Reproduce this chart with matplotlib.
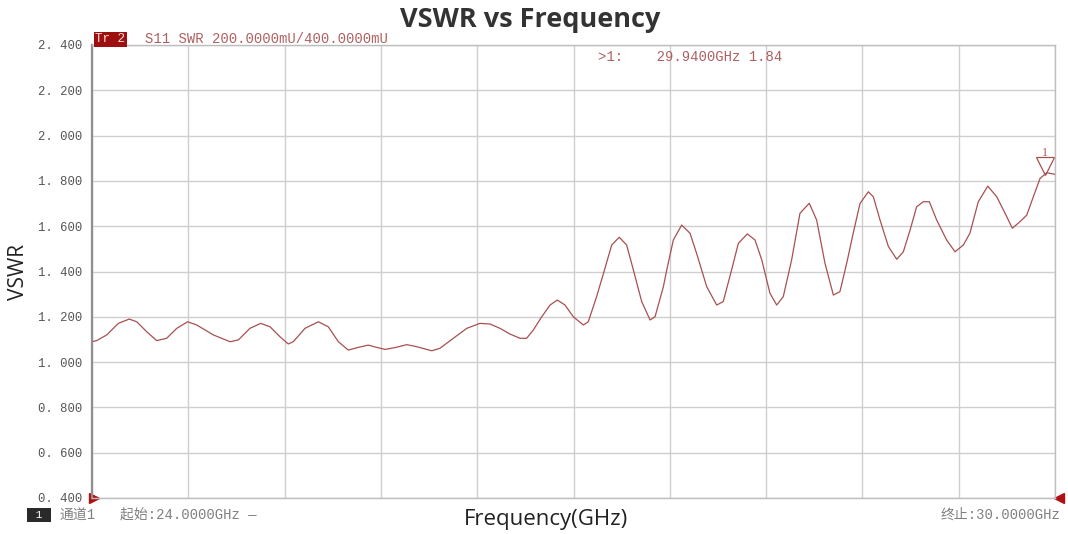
import matplotlib
matplotlib.use("Agg")
import matplotlib.pyplot as plt
import matplotlib.transforms as mtransforms

# VSWR trace (GHz, VSWR)
freq = [24.000, 24.029, 24.092, 24.164, 24.232, 24.279, 24.341, 24.403, 24.465, 24.528,
        24.596, 24.652, 24.756, 24.860, 24.912, 24.984, 25.051, 25.109, 25.171, 25.223,
        25.254, 25.327, 25.410, 25.472, 25.535, 25.597, 25.659, 25.721, 25.774, 25.826,
        25.888, 25.961, 26.023, 26.117, 26.168, 26.251, 26.335, 26.417, 26.480, 26.542,
        26.604, 26.667, 26.708, 26.750, 26.802, 26.854, 26.899, 26.947, 26.999, 27.061,
        27.092, 27.144, 27.196, 27.238, 27.285, 27.331, 27.373, 27.425, 27.477, 27.508,
        27.560, 27.581, 27.622, 27.674, 27.726, 27.767, 27.830, 27.892, 27.933, 27.985,
        28.027, 28.083, 28.131, 28.173, 28.224, 28.266, 28.307, 28.359, 28.411, 28.469,
        28.515, 28.567, 28.619, 28.660, 28.702, 28.743, 28.785, 28.837, 28.868, 28.910,
        28.962, 29.014, 29.055, 29.097, 29.138, 29.180, 29.217, 29.263, 29.325, 29.377,
        29.429, 29.470, 29.522, 29.581, 29.637, 29.689, 29.734, 29.782, 29.824, 29.865,
        29.907, 29.948, 30.000]
vswr = [1.090, 1.095, 1.120, 1.171, 1.190, 1.178, 1.134, 1.095, 1.105, 1.149,
        1.178, 1.164, 1.120, 1.090, 1.098, 1.149, 1.171, 1.156, 1.112, 1.080,
        1.090, 1.149, 1.178, 1.156, 1.090, 1.053, 1.065, 1.075, 1.065, 1.056,
        1.064, 1.077, 1.068, 1.050, 1.061, 1.105, 1.149, 1.171, 1.168, 1.149,
        1.124, 1.105, 1.105, 1.142, 1.200, 1.252, 1.274, 1.252, 1.200, 1.164,
        1.178, 1.289, 1.414, 1.517, 1.551, 1.517, 1.407, 1.267, 1.186, 1.200,
        1.333, 1.407, 1.539, 1.605, 1.569, 1.480, 1.333, 1.252, 1.267, 1.407,
        1.524, 1.566, 1.539, 1.451, 1.304, 1.252, 1.289, 1.451, 1.657, 1.701,
        1.627, 1.436, 1.296, 1.311, 1.436, 1.570, 1.700, 1.752, 1.730, 1.627,
        1.510, 1.454, 1.487, 1.583, 1.686, 1.708, 1.708, 1.627, 1.539, 1.487,
        1.517, 1.569, 1.708, 1.777, 1.730, 1.657, 1.591, 1.620, 1.649, 1.730,
        1.811, 1.836, 1.829]

y_ticks = [0.4, 0.6, 0.8, 1.0, 1.2, 1.4, 1.6, 1.8, 2.0, 2.2, 2.4]
y_labels = ["0. 400", "0. 600", "0. 800", "1. 000", "1. 200", "1. 400",
            "1. 600", "1. 800", "2. 000", "2. 200", "2. 400"]
x_grid = [24.0, 24.6, 25.2, 25.8, 26.4, 27.0, 27.6, 28.2, 28.8, 29.4, 30.0]

marker_f, marker_v = 29.94, 1.84

trace_col = "#a85050"
text_red = "#b06060"
mono = "Liberation Mono"
mono_cjk = ["Liberation Mono", "Noto Sans CJK SC"]

fig = plt.figure(figsize=(10.68, 5.34), dpi=100)
ax = fig.add_axes([92/1068, 1-498/534, (1055-92)/1068, (498-45)/534])

ax.plot(freq, vswr, color=trace_col, lw=0.9)

ax.set_xlim(24, 30)
ax.set_ylim(0.4, 2.4)
ax.set_xticks(x_grid)
ax.set_xticklabels([])
ax.set_yticks(y_ticks)
ax.set_yticklabels(y_labels, fontsize=8.8, family=mono, color="#555555")
ax.tick_params(length=0, pad=7)
ax.grid(True, color="#cfcfcf", lw=1.0)
for s in ax.spines.values():
    s.set_color("#bdbdbd")
    s.set_linewidth(1.0)
ax.spines["left"].set_color("#8f8f8f")
ax.spines["left"].set_linewidth(1.6)

# marker 1
tri = mtransforms.offset_copy(ax.transData, fig=fig, x=0, y=6, units="dots")
ax.plot([marker_f], [marker_v], marker="v", ms=13, mfc="none", mec=trace_col,
        mew=0.9, transform=tri, clip_on=False)
ax.annotate("1", (marker_f, marker_v), xytext=(0, 13), textcoords="offset pixels",
            ha="center", va="bottom", fontsize=8.5, family="Liberation Serif",
            color=trace_col, annotation_clip=False)

# stimulus arrows
ax.plot([24.0], [0.4], marker=">", ms=7, color="#b01010", clip_on=False,
        transform=mtransforms.offset_copy(ax.transData, fig=fig, x=2, y=0, units="dots"))
ax.plot([30.0], [0.4], marker="<", ms=7, color="#b01010", clip_on=False,
        transform=mtransforms.offset_copy(ax.transData, fig=fig, x=4, y=0, units="dots"))

# header text
fig.text(95/1068, 1-39/534, "Tr 2", fontsize=9, family=mono,
         color="#ffdede", va="center", ha="left",
         bbox=dict(boxstyle="square,pad=0.12", fc="#9e1010", ec="none"))
fig.text(145/1068, 1-39/534, "S11 SWR 200.0000mU/400.0000mU", fontsize=10,
         family=mono, color=text_red, va="center")
fig.text(598/1068, 1-57/534, ">1:    29.9400GHz 1.84", fontsize=10,
         family=mono, color=text_red, va="center")

# footer text
fig.text(29/1068, 1-515/534, " 1 ", fontsize=8, color="white", va="center",
         family=mono, bbox=dict(boxstyle="square,pad=0.2", fc="#2a2a2a", ec="none"))
fig.text(60/1068, 1-515/534, "通道1", fontsize=10, family=mono_cjk,
         color="#808080", va="center")
fig.text(120/1068, 1-515/534, "起始:24.0000GHz —", fontsize=10, family=mono_cjk,
         color="#808080", va="center")
fig.text(1060/1068, 1-515/534, "终止:30.0000GHz", fontsize=10, family=mono_cjk,
         color="#808080", va="center", ha="right")

fig.text(530/1068, 1-20/534, "VSWR vs Frequency", fontsize=19.5, fontweight="bold",
         family="Open Sans", color="#333333", ha="center", va="center")
fig.text(546/1068, 1-519/534, "Frequency(GHz)", fontsize=16, family="Open Sans",
         color="#222222", ha="center", va="center")
fig.text(19/1068, 1-272/534, "VSWR", fontsize=15, family="Open Sans",
         color="#222222", ha="center", va="center", rotation=90)

fig.savefig("out.png", dpi=100)
